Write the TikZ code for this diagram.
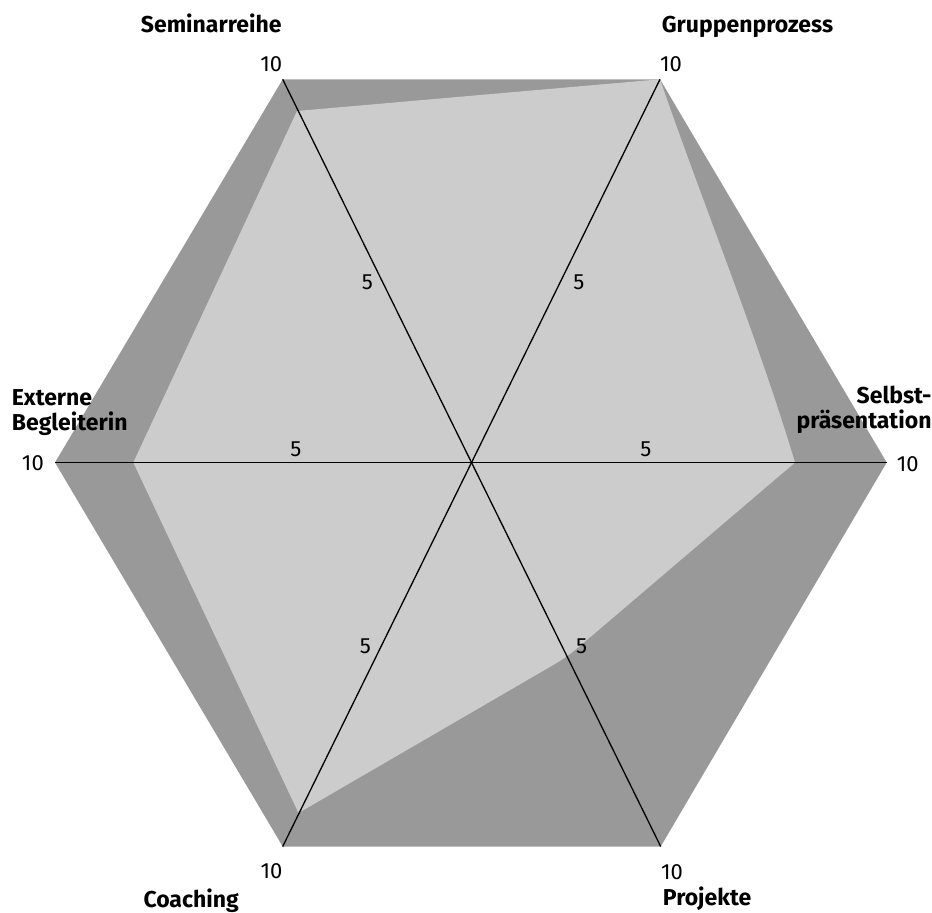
\documentclass[tikz,border=0pt]{standalone}
\usepackage{fontspec}
\setmainfont{Fira Sans}
\usetikzlibrary{calc}
\definecolor{darkfill}{RGB}{153,153,153}
\definecolor{lightfill}{RGB}{204,204,204}
\begin{document}
\begin{tikzpicture}[x=1pt,y=-1pt,
  axis/.style={line width=1.3pt, black},
  cat/.style={inner sep=0pt, font=\fontsize{23}{25}\selectfont\bfseries},
  num/.style={inner sep=0pt, font=\fontsize{22}{24}\selectfont}]
\useasboundingbox (0,0) rectangle (932,913);
% hexagon vertices (value 10)
\coordinate (vTL) at (282.7,79.3);
\coordinate (vTR) at (660,79.3);
\coordinate (vR) at (886.7,462.5);
\coordinate (vBR) at (660.7,846.5);
\coordinate (vBL) at (282.7,846.5);
\coordinate (vL) at (55,462.5);
\fill[darkfill] (vTL) -- (vTR) -- (vR) -- (vBR) -- (vBL) -- (vL) -- cycle;
% data polygon
\coordinate (pSem) at (297,111);
\coordinate (pGrp) at (660,79.3);
\coordinate (pSel) at (795,462.5);
\coordinate (pPro) at (567,657);
\coordinate (pCoa) at (298.5,813);
\coordinate (pExt) at (133.3,462.5);
\coordinate (pProA) at ($(pPro)!28pt!(pSel)$);
\coordinate (pProB) at ($(pPro)!28pt!(pCoa)$);
\fill[lightfill] (pSem) -- (pGrp) .. controls (703,204) and (756,333) .. (pSel)
  -- (pProA) .. controls (pPro) .. (pProB) -- (pCoa) -- (pExt) -- cycle;
% axes
\draw[axis] (vTL) -- (vBR);
\draw[axis] (vTR) -- (vBL);
\draw[axis] (vL) -- (vR);
% value labels 10
\node[num, anchor=base east] (tTL) at (282.3,71.7) {10};
\node[num, anchor=base west] (tTR) at (660,71.7) {10};
\node[num, anchor=base east] (tL) at (44,470.7) {10};
\node[num, anchor=base west] (tR) at (896.7,471) {10};
\node[num, anchor=base east] (tBL) at (282.7,878.3) {10};
\node[num, anchor=base west] (tBR) at (661,879.3) {10};
% value labels 5
\node[num] (fTL) at (367.5,282) {5};
\node[num] (fTR) at (579,282) {5};
\node[num] (fL) at (296,449) {5};
\node[num] (fR) at (646,449) {5};
\node[num] (fBL) at (365.5,646) {5};
\node[num] (fBR) at (581.7,646) {5};
% category labels
\node[cat, anchor=base east] (cSem) at (281.7,32.3) {Seminarreihe};
\node[cat, anchor=base west] (cGrp) at (661.7,32.3) {Gruppenprozess};
\node[cat, anchor=base west] (cExt1) at (11.7,405) {Externe};
\node[cat, anchor=base west] (cExt2) at (11.7,430) {Begleiterin};
\node[cat, anchor=base east] (cSel1) at (931.7,403.3) {Selbst-};
\node[cat, anchor=base east] (cSel2) at (931.7,428.3) {präsentation};
\node[cat, anchor=base west] (cCoa) at (143.3,907.5) {Coaching};
\node[cat, anchor=base west] (cPro) at (662.7,905.7) {Projekte};
\end{tikzpicture}
\end{document}
